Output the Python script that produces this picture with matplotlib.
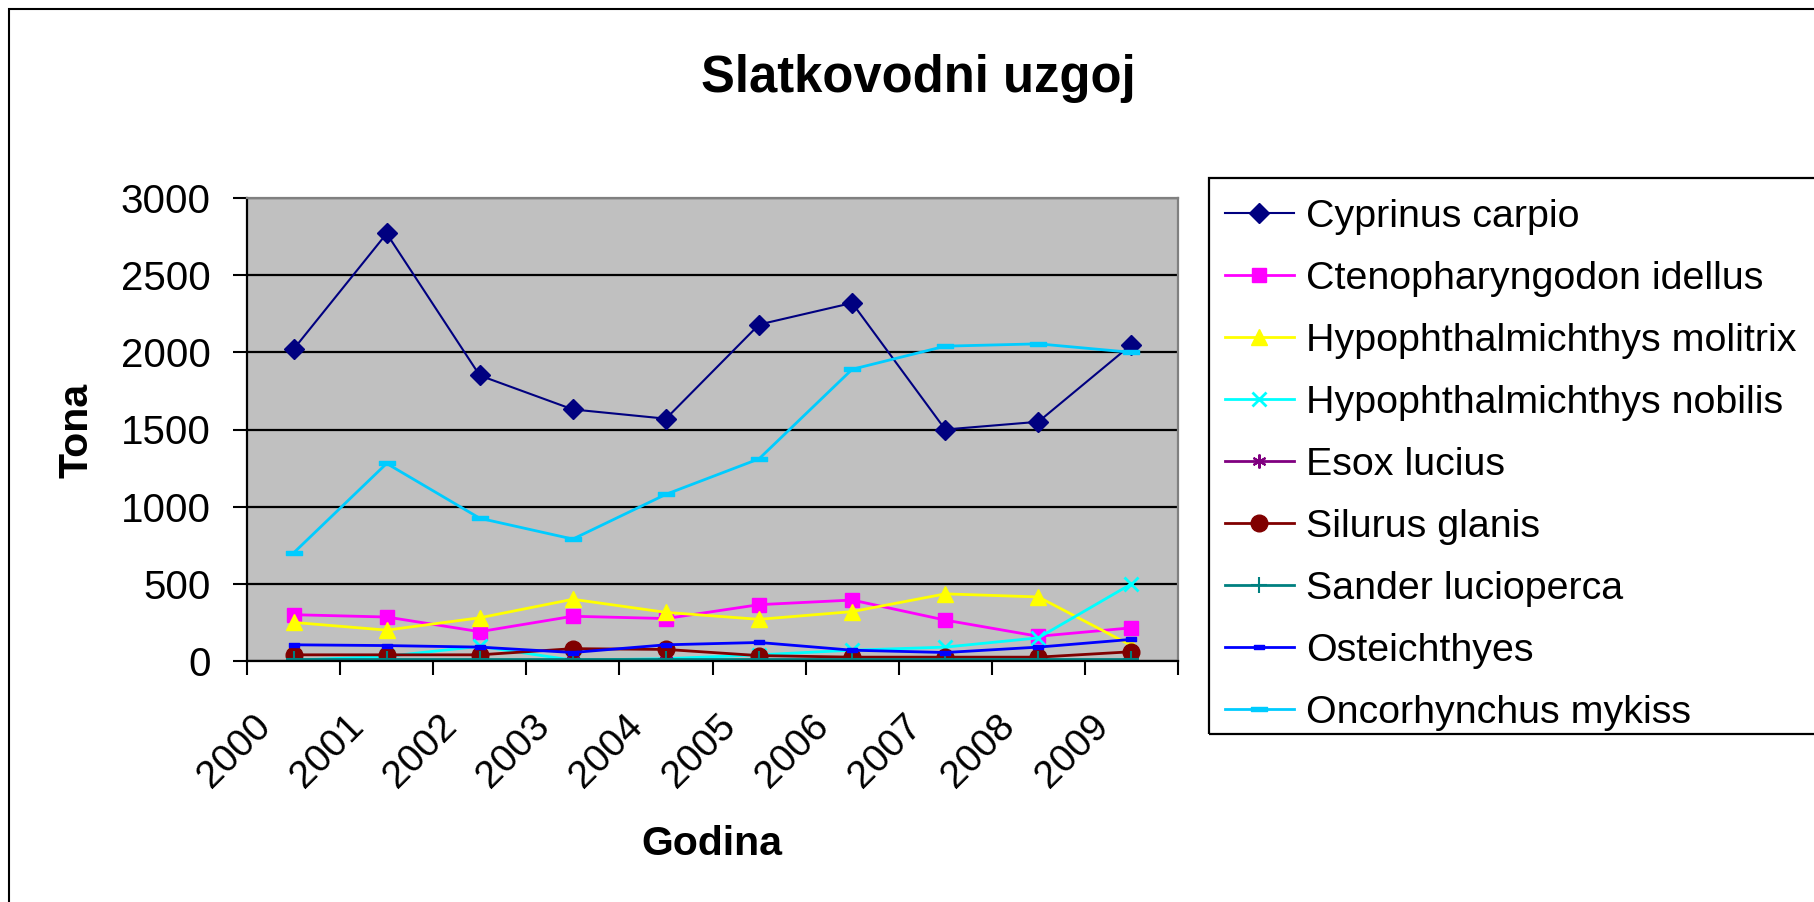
import numpy as np
import matplotlib.pyplot as plt
from matplotlib.path import Path
from matplotlib.patches import Rectangle
import matplotlib.transforms as mtransforms

plt.rcParams['font.family'] = ['Liberation Sans', 'DejaVu Sans']

# podaci (tona po godini)
years = ['2000', '2001', '2002', '2003', '2004', '2005', '2006', '2007', '2008', '2009']
cyprinus = [2020, 2770, 1850, 1630, 1570, 2180, 2320, 1500, 1550, 2050]
ctenopharyngodon = [300, 285, 190, 290, 275, 365, 395, 265, 160, 215]
molitrix = [250, 200, 280, 400, 315, 270, 320, 435, 415, 100]
nobilis = [5, 30, 95, 5, 15, 40, 70, 90, 150, 500]
esox = [5, 5, 5, 5, 5, 5, 5, 5, 5, 5]
silurus = [40, 40, 40, 80, 75, 35, 25, 25, 25, 60]
sander = [10, 10, 10, 10, 10, 10, 10, 10, 10, 10]
osteichthyes = [105, 100, 90, 55, 105, 120, 70, 55, 90, 140]
oncorhynchus = [700, 1280, 925, 790, 1080, 1310, 1890, 2040, 2055, 2000]

names = ['Cyprinus carpio', 'Ctenopharyngodon idellus', 'Hypophthalmichthys molitrix',
         'Hypophthalmichthys nobilis', 'Esox lucius', 'Silurus glanis',
         'Sander lucioperca', 'Osteichthyes', 'Oncorhynchus mykiss']
values = [cyprinus, ctenopharyngodon, molitrix, nobilis, esox, silurus,
          sander, osteichthyes, oncorhynchus]

# Excel-ov "dash" marker
dash = Path([(-1, -0.28), (1, -0.28), (1, 0.28), (-1, 0.28), (-1, -0.28)],
            [Path.MOVETO, Path.LINETO, Path.LINETO, Path.LINETO, Path.CLOSEPOLY])
dash2 = Path([(-1, -0.5), (1, -0.5), (1, 0.5), (-1, 0.5), (-1, -0.5)],
             [Path.MOVETO, Path.LINETO, Path.LINETO, Path.LINETO, Path.CLOSEPOLY])

styles = [
    dict(color='#000080', marker='D', ms=10, lw=1.5),
    dict(color='#FF00FF', marker='s', ms=10, lw=2),
    dict(color='#FFFF00', marker='^', ms=12, lw=2),
    dict(color='#00FFFF', marker='x', ms=10, lw=2, mew=2),
    dict(color='#800080', marker=(6, 2, 0), ms=10, lw=2, mew=1.5),
    dict(color='#800000', marker='o', ms=12, lw=2),
    dict(color='#008080', marker='+', ms=11, lw=2, mew=1.5),
    dict(color='#0000FF', marker=dash2, ms=7, lw=2),
    dict(color='#00CCFF', marker=dash, ms=12, lw=2),
]

W, H = 1814, 902
fig = plt.figure(figsize=(W / 100, H / 100), dpi=100)
ax = fig.add_axes([247 / W, 1 - 661 / H, (1178 - 247) / W, (661 - 198) / H])
ax.set_facecolor('#C0C0C0')

x = np.arange(len(years))
for name, vals, st in zip(names, values, styles):
    ax.plot(x, vals, label=name, mec=st['color'], mfc=st['color'], **st)

ax.set_xlim(-0.5, len(years) - 0.5)
ax.set_ylim(0, 3000)
ax.set_yticks(np.arange(0, 3001, 500))
ax.yaxis.grid(True, color='black', lw=1.6)
ax.set_axisbelow(True)

# x os: kvacice na granicama kategorija, oznake u sredini
ax.set_xticks(np.arange(-0.5, len(years), 1.0))
ax.set_xticklabels([])
ax.set_xticks(x, minor=True)
ax.set_xticklabels(years, minor=True, rotation=45, ha='right', va='top', fontsize=28)
ax.tick_params(axis='x', which='minor', length=0, pad=34)
ax.tick_params(axis='both', which='major', direction='out', length=10, width=1.5)
ax.tick_params(axis='y', labelsize=29, pad=16)
off = mtransforms.ScaledTranslation(-16 / 100, 0, fig.dpi_scale_trans)
for lab in ax.get_xticklabels(minor=True):
    lab.set_transform(lab.get_transform() + off)

for s in ['left', 'bottom']:
    ax.spines[s].set_color('black')
    ax.spines[s].set_linewidth(1.6)
for s in ['top', 'right']:
    ax.spines[s].set_color('#808080')
    ax.spines[s].set_linewidth(1.6)

fig.text(918 / W, 1 - 92 / H, 'Slatkovodni uzgoj', fontsize=36.5, fontweight='bold',
         ha='center', va='baseline')
fig.text(77 / W, 1 - 430 / H, 'Tona', fontsize=29.5, fontweight='bold',
         rotation=90, ha='center', va='center')
fig.text(712 / W, 1 - 855 / H, 'Godina', fontsize=29.5, fontweight='bold',
         ha='center', va='baseline')

leg = ax.legend(loc='upper left', bbox_to_anchor=(1215 / W, 1 - 189 / H),
                bbox_transform=fig.transFigure, borderaxespad=0, fontsize=28.4,
                handlelength=1.75, handletextpad=0.3, borderpad=0.25,
                labelspacing=0.66, numpoints=1, frameon=False)

# okvir legende (desni rub izlazi izvan slike)
fig.add_artist(Rectangle((1209 / W, 1 - 734 / H), 0.5, (734 - 178) / H,
                         transform=fig.transFigure, fill=False, edgecolor='black',
                         lw=1.6, clip_on=False))

# okvir grafikona
fig.add_artist(Rectangle((9 / W, -0.5), 2, 1.5 - 9 / H, transform=fig.transFigure,
                         fill=False, edgecolor='black', lw=1.5, clip_on=False))

plt.savefig('out.png', dpi=100)
